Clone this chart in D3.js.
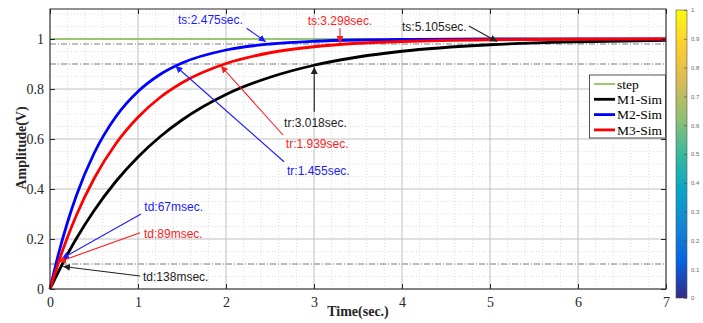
<!DOCTYPE html>
<html><head><meta charset="utf-8">
<script src="https://cdn.jsdelivr.net/npm/d3@7"></script>
<style>body{margin:0;background:#fff}svg{display:block}</style>
</head><body><svg id="c" width="703" height="323"></svg>
<script>
// ---- data ----
const time = [0,0.1,0.2,0.3,0.5,0.75,1,1.25,1.5,2,2.5,3,3.5,4,5,6,7];
const m1Sim = [0,0.072,0.140,0.202,0.313,0.431,0.528,0.609,0.676,0.778,0.847,0.895,0.928,0.951,0.977,0.989,0.995];
const m2Sim = [0,0.145,0.268,0.374,0.542,0.690,0.790,0.858,0.904,0.956,0.980,0.991,0.996,0.998,1.0,1.0,1.0];
const m3Sim = [0,0.110,0.208,0.295,0.441,0.582,0.687,0.766,0.825,0.902,0.945,0.969,0.983,0.990,0.997,0.999,1.0];
const stepTime = [0,7];
const stepVal = [1,1];
const seriesNames = ["step","M1-Sim","M2-Sim","M3-Sim"];
const xTicks = [0,1,2,3,4,5,6,7];
const yTicks = [0,0.2,0.4,0.6,0.8,1];
const refLevels = [0.98,0.9,0.1];
const cbTicks = [0,0.1,0.2,0.3,0.4,0.5,0.6,0.7,0.8,0.9,1];
// annotations: label, text anchor (t,v), arrow start (t,v), arrow tip (t,v)
const annLabels = ["ts:2.475sec.","ts:3.298sec.","ts:5.105sec.","tr:3.018sec.","tr:1.939sec.","tr:1.455sec.","td:67msec.","td:89msec.","td:138msec."];
const annSeries = [2,3,1,1,3,2,2,3,1];
const annText = [[1.455,1.076],[2.928,1.072],[4.0,1.048],[2.66,0.665],[2.68,0.58],[2.693,0.473],[1.072,0.327],[1.068,0.22],[1.057,0.047]];
const annFrom = [[2.235,1.043],[3.295,1.044],[4.76,1.052],[3.003,0.709],[2.648,0.616],[2.659,0.509],[1.034,0.30],[1.023,0.225],[1.023,0.052]];
const annTip  = [[2.451,0.989],[3.295,0.984],[5.08,0.99],[3.003,0.888],[1.943,0.892],[1.426,0.892],[0.136,0.122],[0.097,0.108],[0.148,0.09]];

// ---- layout ----
const svg = d3.select("#c");
const L=50,R=666,T=9,B=289;
const x = d3.scaleLinear().domain([0,7]).range([L,R]);
const y = d3.scaleLinear().domain([0,1.12]).range([B,T]);
const colors = ["#7fbf4a","#000000","#0000ff","#ff0000"];
const annColors = ["#7fbf4a","#222222","#1a1aff","#ff1a1a"];
const serif = "'Liberation Serif','Times New Roman',serif";
const sans = "'Liberation Sans',Arial,sans-serif";

const defs = svg.append("defs");
annColors.forEach((c,i)=>{
  defs.append("marker").attr("id","ah"+i).attr("viewBox","0 0 10 10").attr("refX",10).attr("refY",5)
    .attr("markerWidth",7).attr("markerHeight",7).attr("markerUnits","userSpaceOnUse").attr("orient","auto")
    .append("path").attr("d","M0,0 L10,5 L0,10 z").attr("fill",c);
});

svg.append("rect").attr("x",L).attr("y",T).attr("width",R-L).attr("height",B-T).attr("fill","#fff");

// minor grid
const g = svg.append("g");
d3.range(0,7.001,0.2).forEach(v=>{ g.append("line").attr("x1",x(v)).attr("x2",x(v)).attr("y1",T).attr("y2",B)
  .attr("stroke","#d4d4d4").attr("stroke-width",0.7).attr("stroke-dasharray","1,2"); });
d3.range(0,1.1201,0.05).forEach(v=>{ g.append("line").attr("y1",y(v)).attr("y2",y(v)).attr("x1",L).attr("x2",R)
  .attr("stroke","#d4d4d4").attr("stroke-width",0.7).attr("stroke-dasharray","1,2"); });
// major grid
xTicks.forEach(v=>{ g.append("line").attr("x1",x(v)).attr("x2",x(v)).attr("y1",T).attr("y2",B)
  .attr("stroke","#b8b8b8").attr("stroke-width",0.8); });
yTicks.forEach(v=>{ g.append("line").attr("y1",y(v)).attr("y2",y(v)).attr("x1",L).attr("x2",R)
  .attr("stroke","#b8b8b8").attr("stroke-width",0.8); });

// reference dash-dot lines
refLevels.forEach(v=>{ svg.append("line").attr("x1",L).attr("x2",R).attr("y1",y(v)).attr("y2",y(v))
  .attr("stroke","#707070").attr("stroke-width",0.9).attr("stroke-dasharray","6,2,1,2"); });

// series
const line = d3.line().x(d=>x(d[0])).y(d=>y(d[1])).curve(d3.curveMonotoneX);
const series = [d3.zip(stepTime,stepVal), d3.zip(time,m1Sim), d3.zip(time,m2Sim), d3.zip(time,m3Sim)];
series.forEach((s,i)=>{
  svg.append("path").attr("d",line(s)).attr("fill","none").attr("stroke",colors[i])
    .attr("stroke-width",i===0?1.6:2.8).attr("stroke-linejoin","round");
});

// annotations
annLabels.forEach((lab,i)=>{
  const c = annColors[annSeries[i]];
  svg.append("line").attr("x1",x(annFrom[i][0])).attr("y1",y(annFrom[i][1]))
    .attr("x2",x(annTip[i][0])).attr("y2",y(annTip[i][1]))
    .attr("stroke",c).attr("stroke-width",1.1).attr("marker-end","url(#ah"+annSeries[i]+")");
  svg.append("text").attr("x",x(annText[i][0])).attr("y",y(annText[i][1])).attr("dy","0.35em")
    .attr("font-family",sans).attr("font-size",12).attr("fill",c).text(lab);
});

// axes
const axB = svg.append("g").attr("transform",`translate(0,${B})`)
  .call(d3.axisBottom(x).tickValues(xTicks).tickSize(-5).tickPadding(8).tickFormat(d3.format("d")));
const axL = svg.append("g").attr("transform",`translate(${L},0)`)
  .call(d3.axisLeft(y).tickValues(yTicks).tickSize(-5).tickPadding(6).tickFormat(d=>d===0||d===1?d3.format("d")(d):d3.format(".1f")(d)));
const axT = svg.append("g").attr("transform",`translate(0,${T})`)
  .call(d3.axisTop(x).tickValues(xTicks).tickSize(-5).tickFormat(""));
const axR = svg.append("g").attr("transform",`translate(${R},0)`)
  .call(d3.axisRight(y).tickValues(yTicks).tickSize(-5).tickFormat(""));
[axB,axL,axT,axR].forEach(a=>{
  a.selectAll(".tick line").attr("stroke","#262626");
  a.selectAll("text").attr("font-family",serif).attr("font-size",14).attr("fill","#262626");
  a.selectAll(".domain").remove();
});
svg.append("rect").attr("x",L).attr("y",T).attr("width",R-L).attr("height",B-T)
  .attr("fill","none").attr("stroke","#262626").attr("stroke-width",1);

// axis labels
svg.append("text").attr("x",358).attr("y",316).attr("text-anchor","middle")
  .attr("font-family",serif).attr("font-weight","bold").attr("font-size",14).attr("fill","#262626").text("Time(sec.)");
svg.append("text").attr("transform","translate(21,148) rotate(-90)").attr("text-anchor","middle").attr("dy","0.35em")
  .attr("font-family",serif).attr("font-weight","bold").attr("font-size",14).attr("fill","#262626").text("Amplitude(V)");

// legend
const lg = svg.append("g");
lg.append("rect").attr("x",589.5).attr("y",75).attr("width",76).attr("height",63)
  .attr("fill","#fff").attr("stroke","#262626").attr("stroke-width",0.8);
seriesNames.forEach((n,i)=>{
  const yy = 84 + i*15.3;
  lg.append("line").attr("x1",594).attr("x2",615).attr("y1",yy).attr("y2",yy)
    .attr("stroke",colors[i]).attr("stroke-width",i===0?1.6:2.8);
  lg.append("text").attr("x",617).attr("y",yy).attr("dy","0.35em").attr("font-family",serif)
    .attr("font-size",13.5).attr("fill","#000").text(n);
});

// colorbar (parula)
const parula = ["#352a87","#0363e1","#1485d4","#06a7c6","#38b99e","#92bf73","#d9ba56","#fcce2e","#f9fb0e"];
const grad = defs.append("linearGradient").attr("id","cb").attr("x1",0).attr("y1",1).attr("x2",0).attr("y2",0);
parula.forEach((c,i)=>grad.append("stop").attr("offset",i/(parula.length-1)).attr("stop-color",c));
const cy = d3.scaleLinear().domain([0,1]).range([298,10]);
svg.append("rect").attr("x",676).attr("y",10).attr("width",11).attr("height",288)
  .attr("fill","url(#cb)").attr("stroke","#555").attr("stroke-width",0.6);
const cbAx = svg.append("g").attr("transform","translate(687,0)")
  .call(d3.axisRight(cy).tickValues(cbTicks).tickSize(-3).tickPadding(4).tickFormat(d=>d===0||d===1?d3.format("d")(d):d3.format(".1f")(d)));
cbAx.select(".domain").remove();
cbAx.selectAll(".tick line").attr("stroke","#444").attr("stroke-width",0.6);
cbAx.selectAll("text").attr("font-family",sans).attr("font-size",6).attr("fill","#666");
</script></body></html>
